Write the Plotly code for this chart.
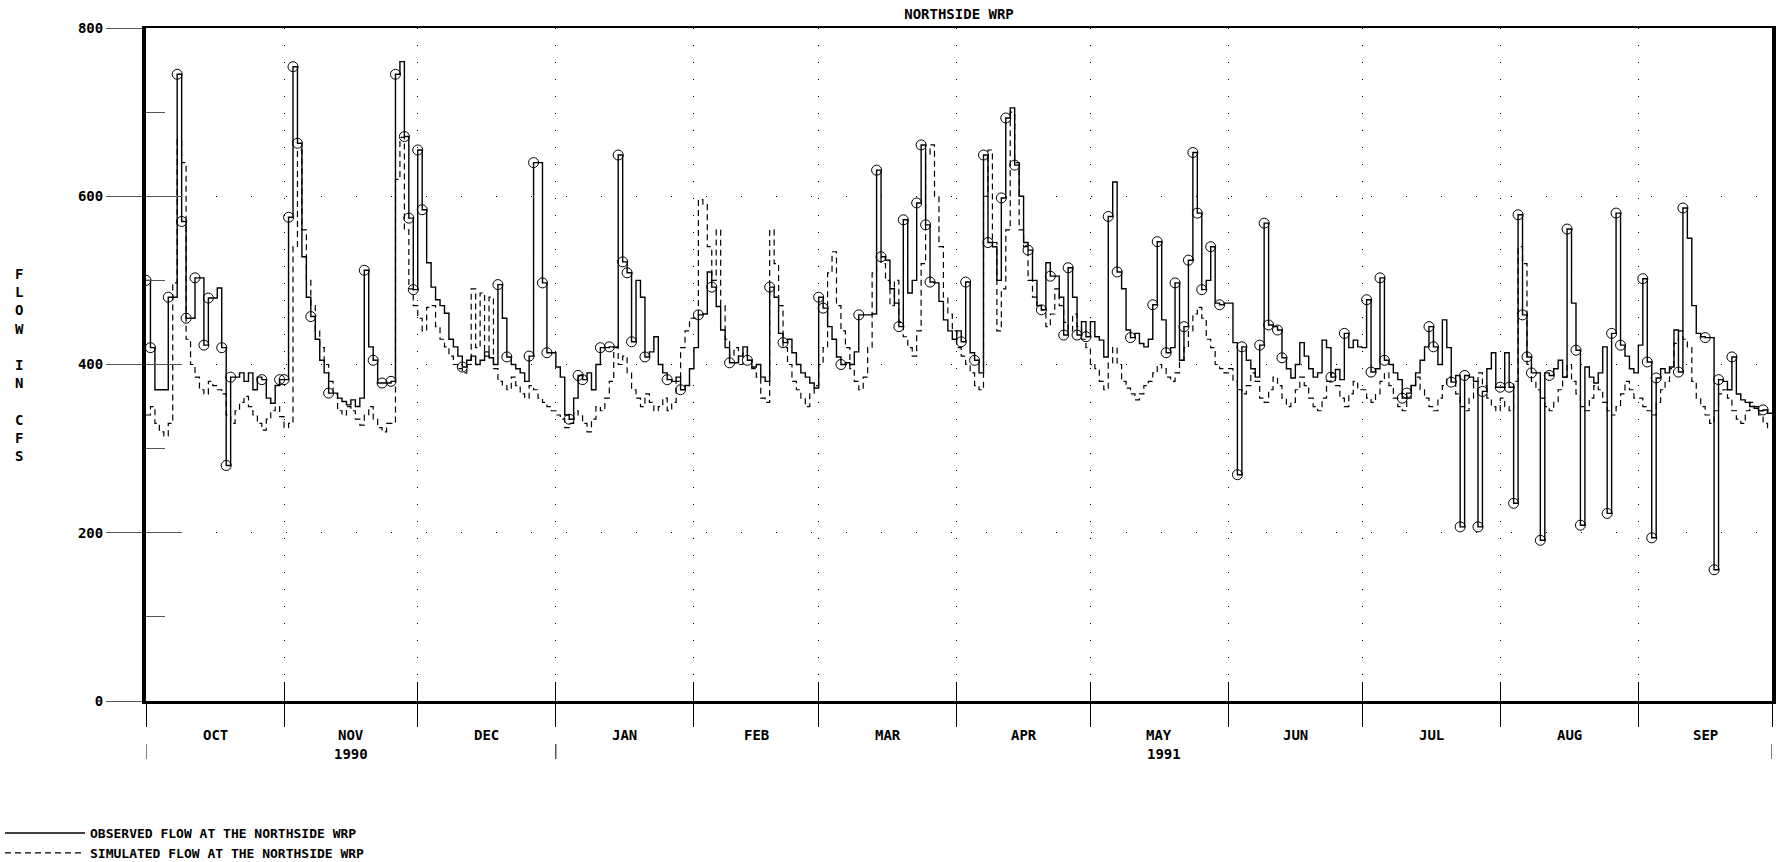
import plotly.graph_objects as go

MONTHS = ["OCT", "NOV", "DEC", "JAN", "FEB", "MAR", "APR", "MAY", "JUN", "JUL", "AUG", "SEP"]
MONTH_DAYS = [31, 30, 31, 31, 28, 31, 30, 31, 30, 31, 31, 30]
YEARS = ["1990", "1991"]
YEAR_MONTHS = [3, 9]
Y_TICKS = [0, 200, 400, 600, 800]
Y_MINOR = [100, 300, 500, 700]

# observed daily flow (cfs), one list per month
obs_oct = [500, 420, 370, 370, 370, 480, 480, 745, 570, 455, 455, 503, 503, 423, 479, 479,
           491, 420, 280, 385, 385, 390, 380, 390, 370, 385, 382, 360, 354, 375, 382]
obs_nov = [382, 575, 754, 663, 528, 480, 457, 430, 405, 390, 366, 366, 360, 356, 352,
           358, 350, 360, 512, 421, 405, 378, 378, 378, 380, 745, 760, 671, 574, 489]
obs_dec = [655, 584, 521, 492, 477, 470, 461, 430, 421, 410, 397, 405, 410, 400, 405, 415,
           408, 400, 495, 455, 409, 400, 395, 390, 380, 410, 640, 640, 497, 414, 414]
obs_jan = [397, 385, 340, 335, 360, 387, 382, 390, 370, 400, 420, 420, 421, 421, 649, 522,
           509, 427, 500, 480, 409, 415, 433, 400, 390, 382, 380, 385, 370, 375, 395]
obs_feb = [420, 459, 460, 510, 492, 469, 441, 420, 402, 402, 410, 421, 405, 397,
           400, 385, 380, 492, 480, 437, 426, 430, 414, 400, 390, 385, 378, 372]
obs_mar = [480, 467, 445, 430, 409, 400, 402, 400, 415, 459, 459, 459, 460, 631, 528, 524,
           490, 473, 445, 572, 485, 500, 592, 661, 566, 498, 497, 475, 453, 440, 430]
obs_apr = [440, 427, 498, 414, 405, 390, 649, 545, 540, 500, 598, 693, 705, 637, 600,
           545, 536, 500, 470, 465, 521, 505, 505, 480, 435, 515, 480, 435, 451, 433]
obs_may = [451, 433, 429, 409, 576, 617, 510, 490, 441, 432, 437, 425, 421, 430, 471, 546,
           453, 414, 420, 497, 405, 445, 524, 652, 580, 489, 500, 540, 473, 471, 473]
obs_jun = [473, 426, 269, 421, 405, 395, 385, 423, 568, 447, 445, 441, 408, 395, 384,
           400, 426, 410, 395, 385, 390, 429, 420, 385, 394, 382, 437, 420, 429, 421]
obs_jul = [420, 477, 391, 395, 503, 405, 400, 390, 382, 360, 366, 375, 390, 405, 421, 445,
           421, 400, 453, 420, 379, 387, 207, 387, 385, 380, 207, 368, 395, 414, 373]
obs_aug = [373, 414, 373, 235, 578, 459, 409, 390, 390, 191, 390, 387, 395, 405, 385, 561,
           473, 417, 209, 397, 385, 378, 390, 421, 223, 437, 580, 423, 410, 395, 390]
obs_sep = [423, 502, 403, 194, 384, 395, 390, 397, 441, 391, 586, 550, 470, 437, 433,
           432, 432, 156, 382, 380, 370, 409, 365, 358, 355, 350, 348, 345, 346, 342]

# simulated daily flow (cfs)
sim_oct = [340, 350, 330, 320, 315, 330, 497, 667, 640, 430, 400, 385, 370, 365, 380, 375,
           370, 365, 340, 330, 345, 355, 362, 350, 340, 330, 322, 335, 345, 350, 338]
sim_nov = [325, 330, 540, 655, 560, 500, 470, 440, 420, 400, 380, 365, 345, 340, 350,
           345, 335, 328, 340, 350, 335, 325, 320, 330, 330, 620, 670, 560, 490, 470]
sim_dec = [455, 440, 468, 470, 445, 430, 421, 410, 400, 395, 390, 400, 490, 420, 485, 410,
           480, 395, 380, 375, 370, 385, 375, 365, 360, 375, 370, 360, 355, 350, 345]
sim_jan = [340, 335, 325, 330, 345, 340, 330, 320, 335, 350, 345, 360, 380, 420, 400, 410,
           390, 370, 360, 350, 365, 355, 345, 350, 360, 345, 355, 380, 420, 440, 455]
sim_feb = [455, 596, 590, 540, 500, 560, 470, 430, 410, 420, 400, 415, 405, 395,
           385, 360, 355, 560, 520, 470, 420, 400, 380, 370, 360, 350, 365, 375]
sim_mar = [400, 420, 509, 534, 470, 440, 420, 395, 380, 370, 385, 420, 509, 528, 520, 500,
           470, 500, 450, 433, 420, 410, 440, 520, 650, 661, 600, 540, 480, 460, 440]
sim_apr = [420, 410, 400, 390, 375, 370, 600, 655, 545, 440, 490, 560, 700, 640, 560,
           540, 500, 480, 470, 465, 445, 460, 490, 470, 450, 440, 460, 445, 430, 420]
sim_may = [400, 395, 380, 370, 402, 420, 400, 380, 372, 365, 358, 365, 375, 380, 390, 400,
           395, 385, 380, 390, 405, 420, 440, 460, 468, 455, 430, 420, 400, 395, 390]
sim_jun = [395, 380, 370, 365, 375, 390, 380, 360, 355, 370, 385, 375, 360, 350, 355,
           370, 385, 375, 360, 350, 345, 360, 380, 390, 375, 360, 350, 365, 380, 370]
sim_jul = [370, 360, 355, 365, 380, 390, 375, 360, 350, 345, 360, 375, 385, 370, 360, 350,
           345, 360, 375, 385, 380, 365, 350, 345, 360, 380, 390, 375, 360, 350, 345]
sim_aug = [360, 350, 345, 380, 540, 520, 400, 380, 370, 360, 350, 345, 355, 370, 385, 400,
           380, 365, 350, 345, 360, 375, 370, 355, 345, 340, 350, 365, 380, 370, 360]
sim_sep = [360, 350, 345, 340, 355, 370, 380, 395, 425, 440, 430, 420, 380, 360, 350,
           340, 330, 345, 365, 370, 360, 345, 335, 330, 345, 355, 350, 340, 330, 325]

# days (water-year index, 0 = Oct 1) where an observed sample is marked
marker_days = [0, 1, 5, 7, 8, 9, 11, 13, 14, 17, 18, 19, 26, 30,
               31, 32, 33, 34, 37, 41, 49, 51, 53, 55, 56, 58, 59, 60,
               61, 62, 71, 79, 81, 86, 87, 89, 90,
               95, 97, 98, 102, 104, 106, 107, 108, 109, 112, 117, 120,
               124, 127, 131, 135, 140, 143,
               151, 152, 156, 160, 164, 165, 169, 170, 173, 174, 175, 176,
               183, 184, 186, 188, 189, 192, 193, 195, 198, 201, 203, 206, 207, 209, 211,
               216, 218, 221, 226, 227, 229, 231, 233, 234, 235, 236, 237, 239, 241,
               245, 246, 250, 251, 252, 254, 255, 266, 269,
               274, 275, 277, 278, 282, 283, 288, 289, 293, 295, 296, 299, 300,
               304, 306, 307, 308, 309, 310, 311, 313, 315, 319, 321, 322, 328, 329, 330, 331,
               336, 337, 338, 339, 344, 345, 350, 352, 353, 356, 363]

observed = (obs_oct + obs_nov + obs_dec + obs_jan + obs_feb + obs_mar
            + obs_apr + obs_may + obs_jun + obs_jul + obs_aug + obs_sep)
simulated = (sim_oct + sim_nov + sim_dec + sim_jan + sim_feb + sim_mar
             + sim_apr + sim_may + sim_jun + sim_jul + sim_aug + sim_sep)
n_days = sum(MONTH_DAYS)
assert len(observed) == n_days and len(simulated) == n_days

days = list(range(n_days + 1))
month_starts = [sum(MONTH_DAYS[:i]) for i in range(len(MONTH_DAYS) + 1)]
year_bounds = [sum(MONTH_DAYS[:sum(YEAR_MONTHS[:i])]) for i in range(len(YEAR_MONTHS) + 1)]

FONT = dict(family="DejaVu Sans Mono", size=14, color="black", weight="bold")
PLOT_H = 673  # px height of plotting area

fig = go.Figure()

fig.add_trace(go.Scatter(
    x=days, y=observed + observed[-1:], mode="lines", line_shape="hv",
    line=dict(color="black", width=1.4),
    name="OBSERVED FLOW AT THE NORTHSIDE WRP",
))
fig.add_trace(go.Scatter(
    x=days, y=simulated + simulated[-1:], mode="lines", line_shape="hv",
    line=dict(color="black", width=1.2, dash="6px,4px"),
    name="SIMULATED FLOW AT THE NORTHSIDE WRP",
))
fig.add_trace(go.Scatter(
    x=marker_days, y=[observed[d] for d in marker_days], mode="markers",
    marker=dict(symbol="circle-open", size=10, color="black", line=dict(width=1)),
    showlegend=False, hoverinfo="skip",
))
# empty traces so the overlay axes (inside tick halves, top border) get drawn
fig.add_trace(go.Scatter(x=[], y=[], xaxis="x2", yaxis="y", showlegend=False))
fig.add_trace(go.Scatter(x=[], y=[], xaxis="x", yaxis="y2", showlegend=False))
fig.add_trace(go.Scatter(x=[], y=[], xaxis="x3", yaxis="y", showlegend=False))

annotations = []
for i, m in enumerate(MONTHS):
    annotations.append(dict(
        x=month_starts[i] + MONTH_DAYS[i] / 2, xref="x", y=-34 / PLOT_H, yref="paper",
        text=m, showarrow=False, font=FONT, yanchor="middle"))
for i, yr in enumerate(YEARS):
    annotations.append(dict(
        x=(year_bounds[i] + year_bounds[i + 1]) / 2, xref="x", y=-53 / PLOT_H, yref="paper",
        text=yr, showarrow=False, font=FONT, yanchor="middle"))
annotations.append(dict(
    x=-127 / 1626, xref="paper", y=0.5, yref="paper",
    text="<br>".join(ch if ch != " " else "\u00a0" for ch in "FLOW IN CFS"),
    showarrow=False, font=dict(FONT, size=14), xanchor="center", yanchor="middle"))

shapes = [dict(type="line", xref="x", yref="paper", x0=b, x1=b,
               y0=-43 / PLOT_H, y1=-58 / PLOT_H, line=dict(color="black", width=1))
          for b in year_bounds]

fig.update_layout(
    width=1781, height=862,
    margin=dict(l=146, r=9, t=28, b=161, autoexpand=False),
    paper_bgcolor="white", plot_bgcolor="white",
    font=FONT,
    title=dict(text="NORTHSIDE WRP", x=959 / 1781, xanchor="center",
               y=1 - 14 / 862, yanchor="middle", font=FONT),
    showlegend=True,
    legend=dict(xref="container", yref="container", x=0, y=1 - 818 / 862,
                xanchor="left", yanchor="top",
                font=dict(FONT, size=13), itemwidth=80, tracegroupgap=0,
                bgcolor="rgba(0,0,0,0)"),
    annotations=annotations,
    shapes=shapes,
    xaxis=dict(range=[0, n_days], tickvals=month_starts, ticks="outside", ticklen=23,
               tickcolor="black", tickwidth=1, showticklabels=False,
               showline=True, linecolor="black", linewidth=3,
               showgrid=True, gridcolor="black", gridwidth=1, griddash="1px,16px",
               zeroline=False, fixedrange=True),
    xaxis2=dict(overlaying="x", anchor="y", range=[0, n_days], tickvals=month_starts,
                ticks="inside", ticklen=19, tickcolor="black", tickwidth=1,
                showticklabels=False, showline=False, showgrid=False, zeroline=False),
    xaxis3=dict(overlaying="x", anchor="y", side="top", range=[0, n_days],
                ticks="", showticklabels=False, showline=True, linecolor="black",
                linewidth=2, showgrid=False, zeroline=False),
    yaxis=dict(range=[0, 800], tickvals=Y_TICKS, ticks="outside", ticklen=36,
               tickcolor="#555", tickwidth=1, tickfont=FONT,
               showline=True, linecolor="black", linewidth=4, mirror=True,
               showgrid=True, gridcolor="black", gridwidth=1, griddash="1px,34px",
               zeroline=False, fixedrange=True,
               minor=dict(tickvals=Y_MINOR, ticks="inside", ticklen=19,
                          tickcolor="#555", tickwidth=1, showgrid=False)),
    yaxis2=dict(overlaying="y", anchor="x", range=[0, 800], tickvals=Y_TICKS[1:-1],
                ticks="inside", ticklen=36, tickcolor="#555", tickwidth=1,
                showticklabels=False, showline=False, showgrid=False, zeroline=False),
)

fig.write_html("out.html", config={"displayModeBar": False},
               post_script="document.body.style.margin='0';"
                           "document.body.style.overflow='hidden';")
